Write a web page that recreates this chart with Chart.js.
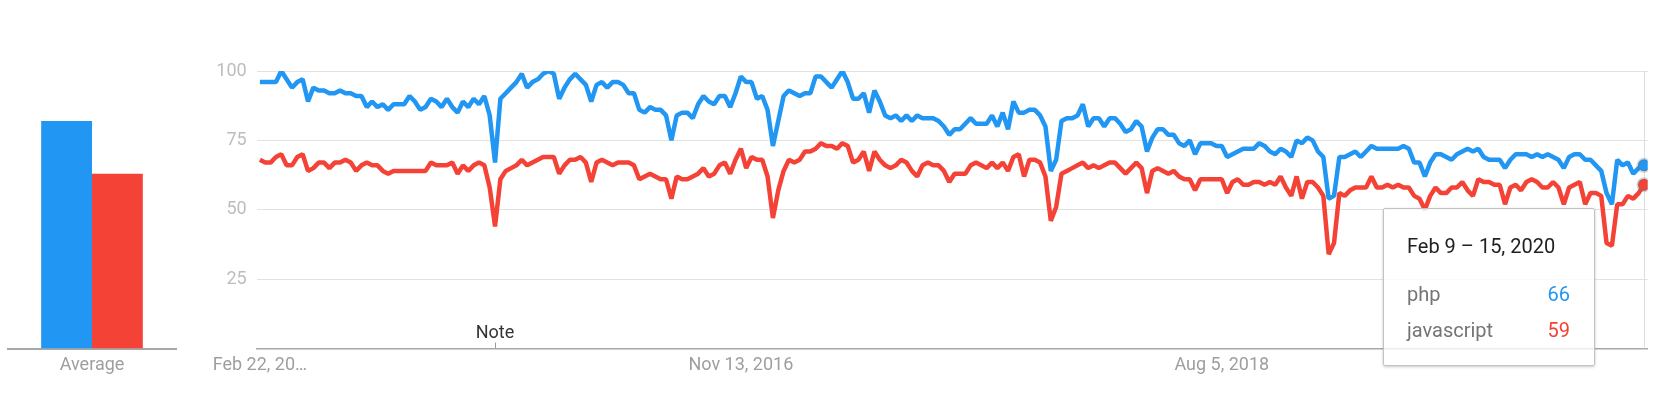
<!DOCTYPE html>
<html>
<head>
<meta charset="utf-8">
<script src="https://cdn.jsdelivr.net/npm/chart.js@4.4.1/dist/chart.umd.min.js"></script>
<style>
    html, body { margin: 0; padding: 0; background: #fff; }
    body { width: 1672px; height: 403px; position: relative; overflow: hidden; font-family: Roboto, 'Noto Sans', sans-serif; }
    #avgWrap { position: absolute; left: 0; top: 0; width: 190px; height: 403px; }
    #trendWrap { position: absolute; left: 190px; top: 0; width: 1482px; height: 403px; }
    #tip { position: absolute; display: none; width: 210px; height: 156px; background: rgba(255,255,255,0.8);
           border: 1px solid #c2c2c2; border-radius: 2px; box-shadow: 0 1px 3px rgba(0,0,0,0.22); }
    #tip .ttl { position: absolute; left: 23px; top: 24px; font-size: 20px; line-height: 26px; color: #212121; white-space: nowrap; }
    #tip .row { position: absolute; left: 23px; right: 24px; font-size: 20px; line-height: 26px; color: #757575; }
    #tip .row span { position: absolute; right: 0; top: 0; }
</style>
</head>
<body>
<div id="avgWrap"><canvas id="avgChart"></canvas></div>
<div id="trendWrap">
    <canvas id="trendChart"></canvas>
    <div id="tip">
        <div class="ttl"></div>
        <div class="row" id="row0" style="top:72px"><b style="font-weight:400"></b><span></span></div>
        <div class="row" id="row1" style="top:108px"><b style="font-weight:400"></b><span></span></div>
    </div>
</div>
<script>
const seriesNames = ['php', 'javascript'];
const avgLabels = ['Average'];
const phpAverage = 82;
const jsAverage = 63;

// weekly values, Feb 22 2015 .. Feb 9 2020
const phpWeekly = [
    96, 96, 96, 96, 100, 97, 94, 96, 97, 89, 94, 93, 93, 92, 92, 93, 92, 92, 91, 91,
    87, 89, 87, 88, 86, 88, 88, 88, 91, 89, 86, 87, 90, 89, 87, 90, 87, 85, 89, 87,
    90, 88, 91, 84, 67, 90, 92, 94, 96, 99, 94, 96, 97, 99, 100, 99, 90, 94, 97, 99,
    97, 95, 89, 95, 96, 94, 96, 96, 95, 92, 92, 86, 85, 87, 86, 86, 84, 75, 84, 85,
    85, 83, 88, 91, 89, 88, 91, 91, 87, 92, 98, 96, 96, 90, 91, 86, 73, 82, 91, 93,
    92, 91, 92, 92, 98, 98, 96, 94, 97, 100, 96, 90, 90, 92, 85, 93, 89, 84, 83, 84,
    82, 84, 82, 84, 83, 83, 83, 82, 80, 77, 79, 79, 81, 83, 81, 81, 81, 84, 80, 85,
    79, 89, 85, 85, 86, 86, 84, 80, 64, 68, 82, 83, 83, 84, 88, 80, 83, 83, 80, 83,
    83, 81, 78, 79, 82, 80, 71, 76, 79, 79, 77, 77, 74, 73, 75, 70, 74, 74, 74, 73,
    73, 69, 70, 71, 72, 72, 72, 74, 73, 71, 70, 72, 71, 69, 75, 74, 76, 75, 71, 69,
    54, 55, 69, 69, 70, 71, 69, 71, 73, 72, 72, 72, 72, 72, 73, 72, 67, 67, 62, 67,
    70, 70, 69, 68, 70, 71, 72, 71, 72, 69, 68, 68, 68, 65, 68, 70, 70, 70, 69, 70,
    69, 70, 69, 68, 65, 69, 70, 70, 68, 68, 66, 64, 56, 52, 68, 66, 67, 63, 65, 66
];
const jsWeekly = [
    68, 67, 67, 69, 70, 66, 66, 69, 70, 64, 65, 67, 67, 65, 67, 67, 68, 67, 64, 66,
    67, 66, 66, 64, 63, 64, 64, 64, 64, 64, 64, 64, 67, 66, 66, 66, 67, 63, 66, 64,
    66, 67, 66, 58, 44, 61, 64, 65, 66, 68, 66, 67, 68, 69, 69, 69, 63, 66, 68, 68,
    69, 67, 60, 67, 68, 67, 66, 67, 67, 67, 66, 61, 62, 63, 62, 61, 61, 54, 62, 61,
    61, 62, 63, 65, 62, 63, 66, 67, 63, 68, 72, 65, 69, 68, 68, 62, 47, 57, 64, 68,
    67, 68, 71, 71, 72, 74, 73, 73, 72, 74, 73, 67, 68, 71, 64, 71, 68, 66, 65, 66,
    68, 67, 64, 62, 66, 67, 66, 66, 64, 60, 63, 63, 63, 66, 67, 66, 65, 67, 65, 67,
    64, 69, 70, 62, 68, 68, 67, 62, 46, 51, 63, 64, 65, 66, 67, 65, 66, 65, 66, 67,
    67, 65, 63, 65, 67, 65, 56, 64, 65, 64, 63, 64, 62, 61, 61, 57, 61, 61, 61, 61,
    61, 56, 60, 61, 59, 59, 60, 60, 59, 60, 59, 62, 58, 55, 62, 54, 60, 60, 58, 55,
    34, 38, 56, 55, 57, 58, 58, 58, 62, 58, 58, 59, 58, 59, 58, 58, 55, 54, 50, 55,
    58, 56, 56, 58, 58, 60, 57, 55, 61, 60, 60, 59, 59, 52, 58, 59, 57, 60, 61, 60,
    58, 58, 60, 58, 52, 58, 59, 60, 52, 56, 56, 55, 38, 37, 52, 52, 55, 54, 56, 59
];

const tickWeeks = [0, 90, 180];
const tickLabels = ['Feb 22, 20\u2026', 'Nov 13, 2016', 'Aug 5, 2018'];
const noteWeek = 44;
const noteText = 'Note';
const hoverWeekLabel = 'Feb 9 \u2013 15, 2020';

const BLUE = '#2196f3';
const RED = '#f44336';
const seriesColors = [BLUE, RED];
const FONT = 'Roboto';

new Chart(document.getElementById('avgChart'), {
    type: 'bar',
    data: {
        labels: avgLabels,
        datasets: [
            { label: seriesNames[0], data: [phpAverage], backgroundColor: BLUE, categoryPercentage: 0.605, barPercentage: 1 },
            { label: seriesNames[1], data: [jsAverage], backgroundColor: RED, categoryPercentage: 0.605, barPercentage: 1 }
        ]
    },
    options: {
        responsive: true,
        maintainAspectRatio: false,
        animation: false,
        layout: { padding: { top: 71, left: 8, right: 14, bottom: 0 } },
        plugins: { legend: { display: false }, tooltip: { enabled: false } },
        events: [],
        scales: {
            x: {
                grid: { display: false, drawTicks: false },
                border: { display: true, color: '#a8a8a8', width: 2 },
                afterFit: s => { s.height = 54.5; },
                ticks: { padding: 6, color: '#9e9e9e', font: { family: FONT, size: 18 } }
            },
            y: { display: false, min: 0, max: 100 }
        }
    }
});

// "Note" marker under the week it refers to
const noteMarker = {
    id: 'noteMarker',
    afterDraw(chart) {
        const ctx = chart.ctx;
        const x = chart.scales.x.getPixelForValue(noteWeek);
        const y = chart.chartArea.bottom;
        ctx.save();
        ctx.strokeStyle = '#9a9a9a';
        ctx.lineWidth = 1;
        ctx.beginPath();
        ctx.moveTo(Math.round(x) + 0.5, y - 6);
        ctx.lineTo(Math.round(x) + 0.5, y);
        ctx.stroke();
        ctx.fillStyle = '#333';
        ctx.font = '18px ' + FONT;
        ctx.textAlign = 'center';
        ctx.textBaseline = 'middle';
        ctx.fillText(noteText, x, y - 15);
        ctx.restore();
    }
};

// vertical rule at the hovered week
const hoverRule = {
    id: 'hoverRule',
    beforeDatasetsDraw(chart) {
        const act = chart.getActiveElements();
        if (!act.length) return;
        const ctx = chart.ctx;
        const x = Math.round(act[0].element.x) + 0.5;
        ctx.save();
        ctx.strokeStyle = '#dedede';
        ctx.lineWidth = 1;
        ctx.beginPath();
        ctx.moveTo(x, chart.chartArea.top);
        ctx.lineTo(x, chart.chartArea.bottom);
        ctx.stroke();
        ctx.restore();
    }
};

function renderTip(context) {
    const { tooltip } = context;
    const tip = document.getElementById('tip');
    if (tooltip.opacity === 0 || !tooltip.dataPoints) { tip.style.display = 'none'; return; }
    tip.querySelector('.ttl').textContent = hoverWeekLabel;
    tooltip.dataPoints.forEach(dp => {
        const row = document.getElementById('row' + dp.datasetIndex);
        if (!row) return;
        row.querySelector('b').textContent = seriesNames[dp.datasetIndex];
        const val = row.querySelector('span');
        val.textContent = dp.raw.y;
        val.style.color = seriesColors[dp.datasetIndex];
    });
    tip.style.display = 'block';
    tip.style.left = (tooltip.caretX - 261) + 'px';
    tip.style.top = '208px';
}

function lineSet(name, values, color) {
    return {
        label: name,
        data: values.map((v, i) => ({ x: i, y: v })),
        borderColor: color,
        backgroundColor: color,
        borderWidth: 4.5,
        borderJoinStyle: 'bevel',
        pointRadius: 0,
        pointHoverRadius: 6,
        pointHoverBorderWidth: 3,
        pointHoverBackgroundColor: color,
        pointHoverBorderColor: 'rgba(110,120,130,0.3)',
        tension: 0
    };
}

const trendChart = new Chart(document.getElementById('trendChart'), {
    type: 'line',
    data: {
        datasets: [
            lineSet(seriesNames[0], phpWeekly, BLUE),
            lineSet(seriesNames[1], jsWeekly, RED)
        ]
    },
    options: {
        responsive: true,
        maintainAspectRatio: false,
        animation: false,
        events: [],
        layout: { padding: { top: 71, right: 24.3, bottom: 0, left: 0 } },
        interaction: { mode: 'index', intersect: false },
        plugins: {
            legend: { display: false },
            tooltip: { enabled: false, external: renderTip }
        },
        scales: {
            x: {
                type: 'linear',
                min: -0.6,
                max: 259.7,
                grid: { display: false, drawTicks: false },
                border: { display: true, color: '#a8a8a8', width: 1.5 },
                afterBuildTicks: s => { s.ticks = tickWeeks.map(v => ({ value: v })); },
                afterFit: s => { s.height = 54.5; },
                ticks: {
                    autoSkip: false,
                    maxRotation: 0,
                    padding: 6,
                    color: '#9e9e9e',
                    font: { family: FONT, size: 18 },
                    callback: v => tickLabels[tickWeeks.indexOf(v)]
                }
            },
            y: {
                min: 0,
                max: 100,
                afterFit: s => { s.width = 66.7; },
                border: { display: false },
                grid: { color: c => c.tick.value === 0 ? 'rgba(0,0,0,0)' : '#e2e2e2', drawTicks: false, lineWidth: 1 },
                ticks: {
                    stepSize: 25,
                    padding: 10,
                    color: '#bdbdbd',
                    font: { family: FONT, size: 18 },
                    callback: v => (v === 0 ? '' : v)
                }
            }
        }
    },
    plugins: [noteMarker, hoverRule]
});

const lastWeek = phpWeekly.length - 1;
const activeEls = [{ datasetIndex: 0, index: lastWeek }, { datasetIndex: 1, index: lastWeek }];
trendChart.setActiveElements(activeEls);
trendChart.tooltip.setActiveElements(activeEls, { x: 0, y: 0 });
trendChart.update();
</script>
</body>
</html>
